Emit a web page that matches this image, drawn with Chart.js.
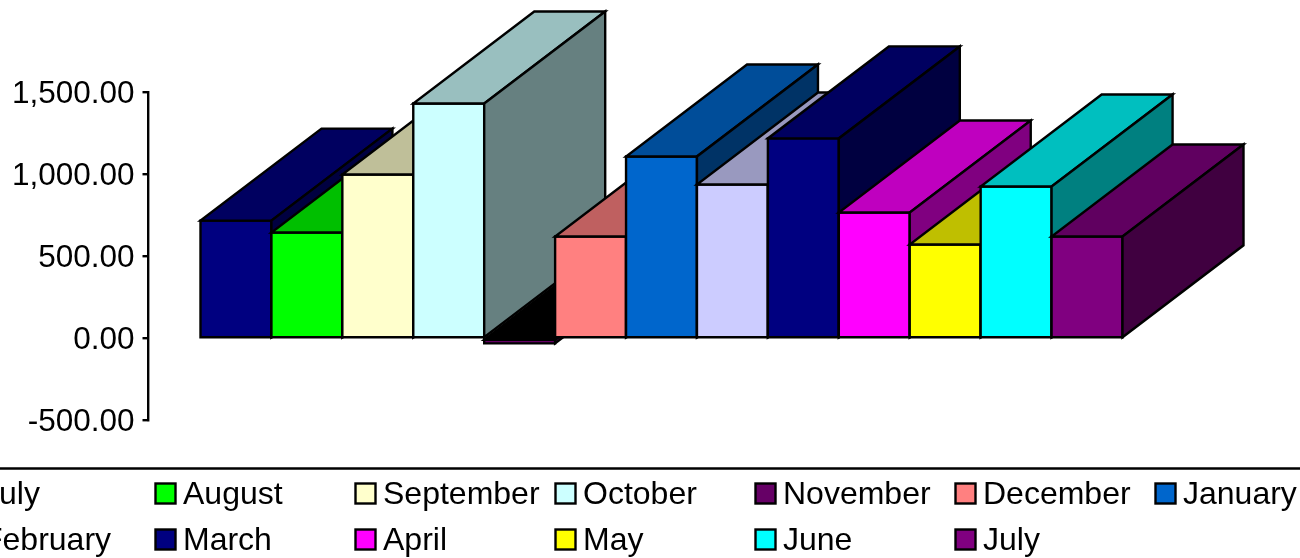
<!DOCTYPE html>
<html>
<head>
<meta charset="utf-8">
<style>
  html, body { margin: 0; padding: 0; background: #fff; overflow: hidden; }
  canvas { display: block; }
</style>
<script src="https://cdn.jsdelivr.net/npm/chart.js@4"></script>
</head>
<body>
<canvas id="chart" width="1300" height="558"></canvas>
<script>
const months = ['July', 'August', 'September', 'October', 'November', 'December', 'January',
                'February', 'March', 'April', 'May', 'June', 'July'];
const values = [719, 646, 1000, 1433, -30, 622, 1110, 939, 1220, 768, 573, 927, 622];
const barColors = ['#000080', '#00ff00', '#ffffcc', '#ccffff', '#660066', '#ff8080', '#0066cc',
                   '#ccccff', '#000080', '#ff00ff', '#ffff00', '#00ffff', '#800080'];
const yTicks = [-500, 0, 500, 1000, 1500];

const FONT = '32px "Liberation Sans", Arial, sans-serif';
const DEPTH_X = 121;
const DEPTH_Y = -92;

// darker version of a face colour, for the top and side of the box
function shade(hex, factor) {
  const n = parseInt(hex.slice(1), 16);
  const r = Math.round((n >> 16 & 255) * factor);
  const g = Math.round((n >> 8 & 255) * factor);
  const b = Math.round((n & 255) * factor);
  return `rgb(${r},${g},${b})`;
}

function face(ctx, pts, color) {
  ctx.beginPath();
  ctx.moveTo(pts[0][0], pts[0][1]);
  pts.slice(1).forEach(p => ctx.lineTo(p[0], p[1]));
  ctx.closePath();
  ctx.fillStyle = color;
  ctx.fill();
  ctx.stroke();
}

// boxes are painted left to right so nearer faces cover the ones before them,
// positions come from the bar elements the library laid out
const boxFaces = {
  id: 'boxFaces',
  afterDatasetsDraw(chart) {
    const ctx = chart.ctx;
    ctx.save();
    ctx.strokeStyle = '#000';
    ctx.lineWidth = 2.4;
    ctx.lineJoin = 'miter';
    months.forEach((name, i) => {
      const bar = chart.getDatasetMeta(i).data[0];
      const color = barColors[i];
      const left = bar.x - bar.width / 2;
      const right = bar.x + bar.width / 2;
      const top = Math.min(bar.y, bar.base);
      const bottom = Math.max(bar.y, bar.base);
      face(ctx, [[left, top], [right, top], [right, bottom], [left, bottom]], color);
      face(ctx, [[left, top], [right, top], [right + DEPTH_X, top + DEPTH_Y], [left + DEPTH_X, top + DEPTH_Y]],
        values[i] < 0 ? '#000' : shade(color, 0.75));
      face(ctx, [[right, top], [right, bottom], [right + DEPTH_X, bottom + DEPTH_Y], [right + DEPTH_X, top + DEPTH_Y]],
        shade(color, 0.5));
    });
    ctx.restore();
  }
};

// legend sits in a fixed grid that runs off the left edge of the picture
const gridLegend = {
  id: 'gridLegend',
  afterDraw(chart) {
    const ctx = chart.ctx;
    ctx.save();
    ctx.strokeStyle = '#000';
    ctx.lineWidth = 2.4;
    ctx.beginPath();
    ctx.moveTo(0, 468.5);
    ctx.lineTo(1300, 468.5);
    ctx.stroke();
    ctx.font = FONT;
    ctx.textBaseline = 'middle';
    months.forEach((name, i) => {
      const x = -44.5 + 200 * (i % 7);
      const y = 493.5 + 46 * Math.floor(i / 7);
      ctx.fillStyle = barColors[i];
      ctx.fillRect(x, y - 10, 20, 20);
      ctx.strokeRect(x, y - 10, 20, 20);
      ctx.fillStyle = '#000';
      ctx.fillText(name, x + 27.5, y + 1.5);
    });
    ctx.restore();
  }
};

new Chart(document.getElementById('chart').getContext('2d'), {
  type: 'bar',
  data: {
    labels: [''],
    datasets: months.map((name, i) => ({
      label: name,
      data: [values[i]],
      backgroundColor: barColors[i],
      borderWidth: 0,
      barPercentage: 1,
      categoryPercentage: 922 / 1026
    }))
  },
  options: {
    responsive: false,
    animation: false,
    layout: { padding: { top: 92.5, bottom: 137.5, left: 0, right: 125.5 } },
    plugins: { legend: { display: false }, tooltip: { enabled: false } },
    scales: {
      x: { display: false },
      y: {
        min: -500,
        max: 1500,
        afterFit(scale) { scale.width = 148.5; },
        afterBuildTicks(scale) { scale.ticks = yTicks.map(v => ({ value: v })); },
        border: { display: true, color: '#000', width: 2.4 },
        grid: { drawOnChartArea: false, color: '#000', lineWidth: 2.4, tickLength: 6 },
        ticks: {
          color: '#000',
          padding: 8,
          labelOffset: 2,
          font: { family: '"Liberation Sans", Arial, sans-serif', size: 31.5 },
          callback: v => v.toLocaleString('en-US', { minimumFractionDigits: 2, maximumFractionDigits: 2 })
        }
      }
    }
  },
  plugins: [boxFaces, gridLegend]
});
</script>
</body>
</html>
